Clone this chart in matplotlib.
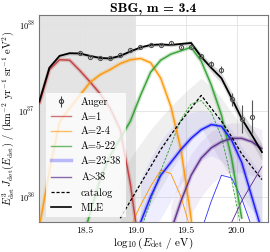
import numpy as np
import matplotlib
matplotlib.use("Agg")
import matplotlib.pyplot as plt
from matplotlib.lines import Line2D

plt.rcParams['font.family'] = 'serif'
plt.rcParams['font.serif'] = ['cmr10']
plt.rcParams['mathtext.fontset'] = 'cm'
plt.rcParams['axes.formatter.use_mathtext'] = True

# ---------------- data (log10 values) ----------------
auger_lgE = [18.45, 18.55, 18.65, 18.75, 18.85, 18.95, 19.05, 19.15, 19.25,
             19.35, 19.45, 19.55, 19.65, 19.75, 19.85, 19.95, 20.05, 20.15]
auger_logJ = [37.674, 37.63, 37.61, 37.61, 37.655, 37.71, 37.74, 37.77, 37.77,
              37.787, 37.745, 37.745, 37.64, 37.55, 37.48, 37.14, 36.90, 36.93]
auger_err_up = [0.01, 0.01, 0.01, 0.01, 0.01, 0.01, 0.01, 0.01, 0.01,
                0.01, 0.01, 0.015, 0.02, 0.03, 0.04, 0.07, 0.17, 0.20]
auger_err_lo = [0.01, 0.01, 0.01, 0.01, 0.01, 0.01, 0.01, 0.01, 0.01,
                0.01, 0.01, 0.015, 0.02, 0.03, 0.04, 0.08, 0.16, 0.19]

mle_lgE = [18.05, 18.15, 18.25, 18.35, 18.45, 18.55, 18.65, 18.75, 18.85, 18.95,
           19.05, 19.15, 19.25, 19.35, 19.45, 19.55, 19.65, 19.75, 19.85, 19.95,
           20.05, 20.15, 20.25]
mle_logJ = [37.108, 37.503, 37.64, 37.671, 37.668, 37.64, 37.616, 37.61, 37.64, 37.692,
            37.738, 37.767, 37.773, 37.767, 37.779, 37.79, 37.63, 37.50, 37.38, 37.15,
            36.91, 36.72, 36.52]
mle_band = [0.02, 0.02, 0.02, 0.02, 0.02, 0.02, 0.02, 0.02, 0.02, 0.02,
            0.02, 0.02, 0.02, 0.02, 0.02, 0.03, 0.04, 0.05, 0.06, 0.07,
            0.08, 0.09, 0.10]

red_lgE = [18.05, 18.15, 18.25, 18.35, 18.45, 18.55, 18.65, 18.75, 18.85, 18.95, 19.05]
red_logJ = [37.08, 37.48, 37.595, 37.59, 37.47, 37.34, 37.20, 37.03, 36.78, 36.15, 35.3]

orange_lgE = [18.05, 18.15, 18.25, 18.35, 18.45, 18.55, 18.65, 18.75, 18.85, 18.95,
              19.05, 19.15, 19.25, 19.35, 19.45, 19.55, 19.65]
orange_logJ = [35.65, 36.3, 36.87, 37.03, 37.18, 37.33, 37.42, 37.48, 37.55, 37.595,
               37.61, 37.56, 37.38, 37.05, 36.55, 35.75, 34.5]

green_lgE = [18.45, 18.55, 18.65, 18.75, 18.85, 18.95, 19.05, 19.15, 19.25, 19.35,
             19.45, 19.55, 19.65, 19.75, 19.85, 19.95, 20.05]
green_logJ = [35.4, 35.8, 36.2, 36.48, 36.68, 36.88, 37.18, 37.45, 37.59, 37.66,
              37.70, 37.74, 37.58, 37.30, 36.95, 36.45, 35.75]

blue_lgE = [19.05, 19.15, 19.25, 19.35, 19.45, 19.55, 19.65, 19.75, 19.85, 19.95,
            20.05, 20.15, 20.25]
blue_logJ = [35.7, 36.0, 36.25, 36.4, 36.55, 36.68, 36.78, 36.84, 36.82, 36.66,
             36.40, 36.0, 35.6]
blue_hi = [36.2, 36.45, 36.65, 36.8, 36.92, 36.98, 37.0, 36.98, 36.9, 36.78,
           36.58, 36.42, 36.25]
blue_lo = [35.5, 35.6, 35.75, 35.95, 36.15, 36.3, 36.42, 36.48, 36.42, 36.28,
           36.0, 35.7, 35.4]

purple_lgE = [19.35, 19.45, 19.55, 19.65, 19.75, 19.85, 19.95, 20.05, 20.15, 20.25]
purple_logJ = [35.6, 35.95, 36.25, 36.45, 36.57, 36.64, 36.68, 36.68, 36.64, 36.56]
purple_hi = [35.9, 36.25, 36.5, 36.65, 36.76, 36.83, 36.86, 36.86, 36.83, 36.78]
purple_lo = [35.5, 35.6, 35.8, 36.0, 36.15, 36.25, 36.28, 36.28, 36.25, 36.2]

cat_lgE = [18.85, 18.95, 19.05, 19.15, 19.25, 19.35, 19.45, 19.55, 19.65, 19.75,
           19.85, 19.95, 20.05, 20.15, 20.25]
cat_logJ = [35.75, 35.95, 36.15, 36.35, 36.55, 36.72, 36.88, 37.03, 37.18, 37.03,
            36.88, 36.70, 36.50, 36.35, 36.20]
cat_hi = [36.2, 36.45, 36.62, 36.78, 36.92, 37.05, 37.17, 37.28, 37.38, 37.28,
          37.15, 36.98, 36.85, 36.72, 36.6]
cat_lo = [35.5, 35.5, 35.7, 35.9, 36.1, 36.3, 36.48, 36.65, 36.8, 36.6,
          36.4, 36.2, 36.0, 35.85, 35.7]

orange_cat_lgE = [18.95, 19.05, 19.15, 19.25, 19.35, 19.45, 19.55]
orange_cat_logJ = [35.65, 35.9, 36.12, 36.31, 36.27, 36.0, 35.6]
green_cat_lgE = [19.05, 19.15, 19.25, 19.35, 19.45, 19.55, 19.65, 19.75, 19.85, 19.95, 20.05]
green_cat_logJ = [35.6, 35.95, 36.3, 36.6, 36.9, 37.08, 37.12, 36.98, 36.7, 36.2, 35.6]
blue_cat_lgE = [19.65, 19.75, 19.85, 19.95, 20.05, 20.15, 20.25]
blue_cat_logJ = [35.6, 35.95, 36.25, 36.22, 35.98, 35.65, 35.3]
purple_cat_lgE = [19.95, 20.05, 20.15, 20.25]
purple_cat_logJ = [35.7, 35.95, 36.15, 36.35]

# ---------------- plotting ----------------
def p(v):
    return np.power(10.0, np.asarray(v, dtype=float))

fig = plt.figure(figsize=(2.7, 2.52), dpi=100)
ax = fig.add_axes([0.1444, 0.119, 0.8482, 0.8215])
ax.set_yscale('log')
ax.set_xlim(18.047, 20.31)
ax.set_ylim(10**35.706, 10**38.116)

ax.axvspan(18.0, 19.0, color='#e4e4e4', zorder=0, lw=0)
ax.grid(True, color='#e2e2e2', lw=0.6, zorder=0.5)
ax.set_axisbelow(True)

# sample bands
ax.fill_between(cat_lgE, p(cat_lo), p(cat_hi), color='#a0a0a0', alpha=0.16, lw=0, zorder=1)
ax.fill_between(blue_lgE, p(blue_lo), p(blue_hi), color='#8080ff', alpha=0.13, lw=0, zorder=1)
ax.fill_between(purple_lgE, p(purple_lo), p(purple_hi), color='#9060b8', alpha=0.11, lw=0, zorder=1)
mle_arr = np.asarray(mle_logJ)
band = np.asarray(mle_band)
ax.fill_between(mle_lgE, p(mle_arr - band), p(mle_arr + band), color='#8a8a8a', alpha=0.3, lw=0, zorder=2)

comps = [
    (red_lgE, red_logJ, '#c0393b'),
    (orange_lgE, orange_logJ, '#ff9500'),
    (green_lgE, green_logJ, '#2e9e2e'),
    (blue_lgE, blue_logJ, '#1010ff'),
    (purple_lgE, purple_logJ, '#5b2a8a'),
]
for x, y, c in comps:
    ax.plot(x, p(y), color=c, lw=3.0, alpha=0.22, zorder=3, solid_capstyle='butt')
    ax.plot(x, p(y), color=c, lw=1.1, alpha=0.9, zorder=3.5)

# thin catalog component lines
ax.plot(orange_cat_lgE, p(orange_cat_logJ), color='#ff9500', lw=0.6, zorder=3)
ax.plot(green_cat_lgE, p(green_cat_logJ), color='#2e9e2e', lw=0.6, ls=(0, (3, 1.5)), zorder=3)
ax.plot(blue_cat_lgE, p(blue_cat_logJ), color='#3030ff', lw=0.6, zorder=3)
ax.plot(purple_cat_lgE, p(purple_cat_logJ), color='#5b2a8a', lw=0.6, zorder=3)

ax.plot(cat_lgE, p(cat_logJ), color='black', lw=0.9, ls=(0, (2.5, 1.5)), zorder=4)
ax.plot(mle_lgE, p(mle_logJ), color='black', lw=1.3, zorder=5)

yv = p(auger_logJ)
yerr = [yv - p(np.asarray(auger_logJ) - np.asarray(auger_err_lo)),
        p(np.asarray(auger_logJ) + np.asarray(auger_err_up)) - yv]
ax.errorbar(auger_lgE, yv, yerr=yerr, fmt='o', ms=3, mfc='none', mec='#555555',
            mew=0.8, ecolor='#555555', elinewidth=0.8, capsize=0, zorder=6)

# legend proxies
handles = [
    ax.errorbar([], [], yerr=[], fmt='o', ms=3, mfc='none', mec='#444444', mew=0.8,
                ecolor='#444444', elinewidth=0.8),
    Line2D([], [], color='#c0393b', lw=1.0, alpha=0.7),
    Line2D([], [], color='#ff9500', lw=1.0, alpha=0.6),
    Line2D([], [], color='#2e9e2e', lw=1.0, alpha=0.7),
    Line2D([], [], color='#4040ff', lw=2.5, alpha=0.35),
    Line2D([], [], color='#5b2a8a', lw=1.0, alpha=0.7),
    Line2D([], [], color='black', lw=0.9, ls=(0, (2.5, 1.5))),
    Line2D([], [], color='black', lw=1.2),
]
labels = ['Auger', 'A=1', 'A=2-4', 'A=5-22', 'A=23-38', r'A$\!\!>\!\!$38', 'catalog', 'MLE']
leg = ax.legend(handles, labels, loc='lower left', bbox_to_anchor=(0.01, 0.0),
                fontsize=7.5, frameon=True, framealpha=0.8, edgecolor='white',
                fancybox=False, handlelength=2.0, handletextpad=0.9,
                labelspacing=0.5, borderpad=0.4)
leg.get_frame().set_linewidth(0)
leg.set_zorder(10)

ax.set_xticks([18.5, 19.0, 19.5, 20.0])
ax.set_xticklabels(['18.5', '19.0', '19.5', '20.0'])
ax.tick_params(axis='both', which='both', length=0, labelsize=7, pad=3)
ax.tick_params(axis='y', labelsize=6)
for s in ax.spines.values():
    s.set_color('#777777')
    s.set_linewidth(0.8)

ax.set_xlabel(r'$\log_{10}(E_{\rm det}$ / eV$)$', fontsize=8, labelpad=1)
ax.set_ylabel(r'$E_{\rm det}^3\, J_{\rm det}(E_{\rm det})$ / (km$^{-2}$ yr$^{-1}$ sr$^{-1}$ eV$^{2}$)',
              fontsize=7.5, labelpad=1)
ax.set_title('SBG, m = 3.4', fontsize=10, fontfamily='cmb10', pad=2)

fig.savefig('out.png', dpi=100)
